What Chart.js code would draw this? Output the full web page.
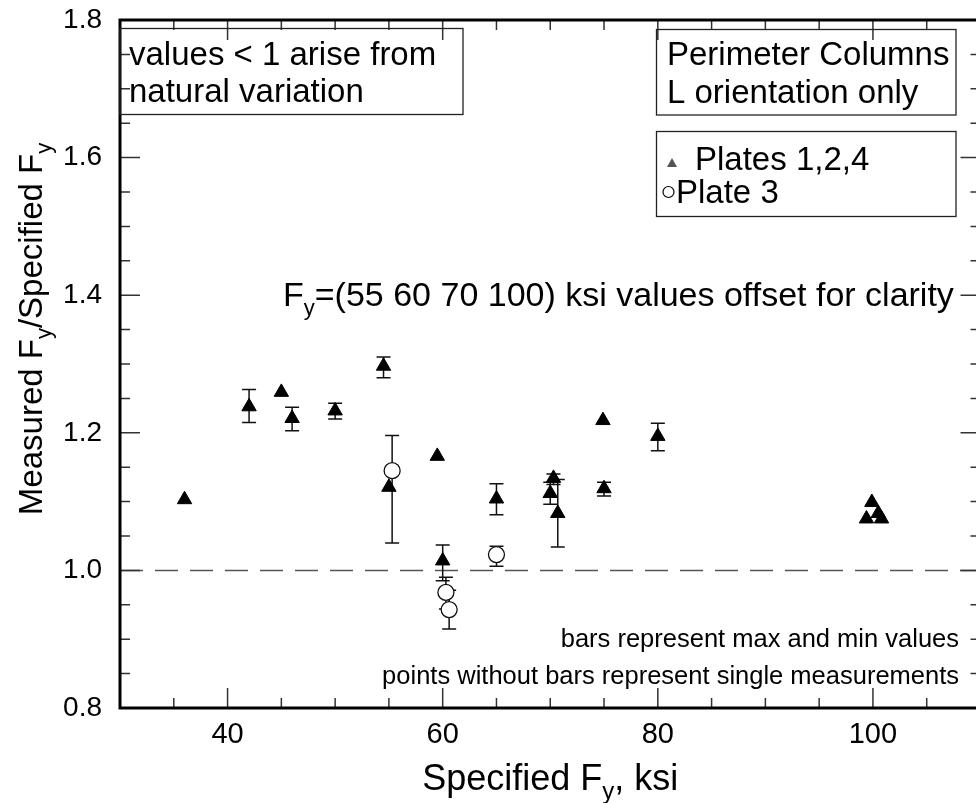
<!DOCTYPE html>
<html>
<head>
<meta charset="utf-8">
<script src="https://cdn.jsdelivr.net/npm/chart.js@4/dist/chart.umd.min.js"></script>
<style>
  html, body { margin: 0; padding: 0; background: #fff; overflow: hidden; }
  #wrap { width: 1000px; height: 803px; }
</style>
</head>
<body>
<div id="wrap"><canvas id="fyChart" width="1000" height="803"></canvas></div>
<script>
'use strict';

// Plates 1,2,4 (triangles) - null means single measurement, no bar
const triX   = [36, 42, 45, 46, 50, 54.5, 55, 59.5, 60, 65, 70, 70.3, 70.7, 74.9, 75, 80, 99.4, 99.9, 100.5, 100.8];
const triY   = [1.103, 1.238, 1.259, 1.221, 1.232, 1.297, 1.121, 1.166, 1.014, 1.104, 1.112, 1.134, 1.083, 1.218, 1.119, 1.195, 1.075, 1.099, 1.083, 1.075];
const triMax = [null, 1.263, null, 1.237, 1.243, 1.310, null, null, 1.037, 1.126, 1.128, 1.140, 1.132, null, 1.128, 1.214, null, null, null, null];
const triMin = [null, 1.215, null, 1.203, 1.220, 1.280, null, null, 0.985, 1.081, 1.096, 1.125, 1.034, null, 1.108, 1.174, null, null, null, null];

// Plate 3 (open circles)
const cirX   = [55.3, 60.3, 60.6, 65];
const cirY   = [1.145, 0.968, 0.943, 1.023];
const cirMax = [1.196, 0.990, 0.971, 1.035];
const cirMin = [1.040, 0.944, 0.915, 1.006];

// axis ticks
const xLabels = [40, 60, 80, 100];
const yLabels = [0.8, 1.0, 1.2, 1.4, 1.6, 1.8];

const FONT = '"Liberation Sans", Arial, Helvetica, sans-serif';

function toPoints(xs, ys, maxs, mins) {
    let pts = [];
    for (let i = 0; i < xs.length; i++) {
        pts.push({x: xs[i], y: ys[i], max: maxs[i], min: mins[i]});
    }
    return pts;
}

// text with subscripts: parts = [[text, isSub], ...]
function subText(ctx, parts, size) {
    let w = 0;
    for (let p of parts) {
        ctx.font = (p[1] ? Math.round(size * 0.66) : size) + 'px ' + FONT;
        w += ctx.measureText(p[0]).width;
    }
    return w;
}

function drawSub(ctx, parts, x, y, size) {
    let cx = x;
    ctx.textAlign = 'left';
    ctx.textBaseline = 'alphabetic';
    for (let p of parts) {
        ctx.font = (p[1] ? Math.round(size * 0.66) : size) + 'px ' + FONT;
        ctx.fillText(p[0], cx, p[1] ? y + size * 0.26 : y);
        cx += ctx.measureText(p[0]).width;
    }
}

// no extra room for the end labels, the frame sits where the padding says
function noPad(s) {
    s.paddingTop = 0;
    s.paddingBottom = 0;
    s.paddingLeft = 0;
    s.paddingRight = 0;
}

// error bars, dashed 1.0 line
const underPlugin = {
    id: 'under',
    beforeDatasetsDraw(chart) {
        const ctx = chart.ctx;
        const xs = chart.scales.x;
        const ys = chart.scales.y;
        const area = chart.chartArea;

        ctx.save();
        ctx.strokeStyle = '#555';
        ctx.lineWidth = 1.5;
        ctx.setLineDash([23, 12]);
        ctx.beginPath();
        ctx.moveTo(area.left, ys.getPixelForValue(1.0));
        ctx.lineTo(area.right, ys.getPixelForValue(1.0));
        ctx.stroke();
        ctx.setLineDash([]);

        ctx.strokeStyle = '#111';
        ctx.lineWidth = 1.5;
        chart.data.datasets.forEach(ds => {
            ds.data.forEach(p => {
                if (p.max === null) return;
                let px = xs.getPixelForValue(p.x);
                let top = ys.getPixelForValue(p.max);
                let bot = ys.getPixelForValue(p.min);
                ctx.beginPath();
                ctx.moveTo(px, top); ctx.lineTo(px, bot);
                ctx.moveTo(px - 7, top); ctx.lineTo(px + 7, top);
                ctx.moveTo(px - 7, bot); ctx.lineTo(px + 7, bot);
                ctx.stroke();
            });
        });
        ctx.restore();
    }
};

// frame, inward ticks, boxes, titles
const overPlugin = {
    id: 'over',
    afterDraw(chart) {
        const ctx = chart.ctx;
        const xs = chart.scales.x;
        const ys = chart.scales.y;
        const a = chart.chartArea;
        ctx.save();

        // minor / major ticks on all four sides
        ctx.strokeStyle = '#333';
        ctx.lineWidth = 1.5;
        ctx.beginPath();
        for (let v = 35; v < 110; v += 5) {
            let len = (v % 20 === 0) ? 20 : 10;
            let px = xs.getPixelForValue(v);
            ctx.moveTo(px, a.bottom); ctx.lineTo(px, a.bottom - len);
            ctx.moveTo(px, a.top); ctx.lineTo(px, a.top + len);
        }
        for (let k = 17; k < 36; k++) {
            let v = k * 0.05;
            let len = (k % 4 === 0) ? 20 : 10;
            let py = ys.getPixelForValue(v);
            ctx.moveTo(a.left, py); ctx.lineTo(a.left + len, py);
            ctx.moveTo(a.right, py); ctx.lineTo(a.right - len, py);
        }
        ctx.stroke();

        // frame
        ctx.strokeStyle = '#000';
        ctx.lineWidth = 3;
        ctx.strokeRect(a.left, a.top, a.right - a.left, a.bottom - a.top);

        // text boxes
        ctx.fillStyle = '#000';
        ctx.strokeStyle = '#222';
        ctx.lineWidth = 1.3;
        ctx.strokeRect(120, 28.5, 343, 86);
        ctx.strokeRect(656.5, 29.5, 299.5, 85.5);
        ctx.strokeRect(656.5, 131.5, 299.5, 85);

        ctx.font = '33px ' + FONT;
        ctx.textAlign = 'left';
        ctx.textBaseline = 'alphabetic';
        ctx.fillText('values < 1 arise from', 129, 65);
        ctx.fillText('natural variation', 129, 102);
        ctx.fillText('Perimeter Columns', 667, 65);
        ctx.fillText('L orientation only', 667, 103);
        ctx.fillText('Plates 1,2,4', 695, 170);
        ctx.fillText('Plate 3', 676, 203);

        // legend markers
        ctx.fillStyle = '#555';
        ctx.beginPath();
        ctx.moveTo(672, 158); ctx.lineTo(677, 167); ctx.lineTo(667, 167);
        ctx.closePath();
        ctx.fill();
        ctx.strokeStyle = '#000';
        ctx.lineWidth = 1.2;
        ctx.beginPath();
        ctx.arc(668.5, 192, 5.5, 0, Math.PI * 2);
        ctx.stroke();

        ctx.fillStyle = '#000';
        drawSub(ctx, [['F', false], ['y', true], ['=(55 60 70 100) ksi values offset for clarity', false]], 283, 306, 34);

        ctx.font = '25.5px ' + FONT;
        ctx.textAlign = 'right';
        ctx.fillText('bars represent max and min values', 959, 647);
        ctx.fillText('points without bars represent single measurements', 959, 684);

        // axis titles
        let xParts = [['Specified F', false], ['y', true], [', ksi', false]];
        let xw = subText(ctx, xParts, 36);
        drawSub(ctx, xParts, (a.left + a.right) / 2 - xw / 2, 790, 36);

        let yParts = [['Measured F', false], ['y', true], ['/Specified F', false], ['y', true]];
        let yw = subText(ctx, yParts, 33);
        ctx.translate(42, 329);
        ctx.rotate(-Math.PI / 2);
        drawSub(ctx, yParts, -yw / 2, 0, 33);

        ctx.restore();
    }
};

let fyChart = new Chart(document.getElementById('fyChart').getContext('2d'), {
    type: 'scatter',
    data: {
        datasets: [{
            label: 'Plates 1,2,4',
            data: toPoints(triX, triY, triMax, triMin),
            pointStyle: 'triangle',
            pointRadius: 8.3,
            backgroundColor: '#000',
            borderColor: '#000',
            borderWidth: 1
        }, {
            label: 'Plate 3',
            data: toPoints(cirX, cirY, cirMax, cirMin),
            pointStyle: 'circle',
            pointRadius: 8,
            backgroundColor: '#fff',
            borderColor: '#111',
            borderWidth: 1.3
        }]
    },
    options: {
        responsive: false,
        animation: false,
        layout: {padding: {top: 20, right: 19.5, left: 0, bottom: 0}},
        plugins: {
            legend: {display: false},
            tooltip: {enabled: false}
        },
        scales: {
            x: {
                type: 'linear',
                min: 30,
                max: 110,
                afterFit: s => { s.height = 95; noPad(s); },
                afterBuildTicks: s => { s.ticks = xLabels.map(v => ({value: v})); },
                grid: {display: false, drawTicks: false, tickLength: 0},
                border: {display: false},
                ticks: {
                    color: '#000',
                    font: {family: FONT, size: 29},
                    padding: 10,
                    maxRotation: 0
                }
            },
            y: {
                type: 'linear',
                min: 0.8,
                max: 1.8,
                afterFit: s => { s.width = 120; noPad(s); },
                afterBuildTicks: s => { s.ticks = yLabels.map(v => ({value: v})); },
                grid: {display: false, drawTicks: false, tickLength: 0},
                border: {display: false},
                ticks: {
                    color: '#000',
                    font: {family: FONT, size: 28},
                    padding: 18,
                    callback: v => Number(v).toFixed(1)
                }
            }
        }
    },
    plugins: [underPlugin, overPlugin]
});
</script>
</body>
</html>
